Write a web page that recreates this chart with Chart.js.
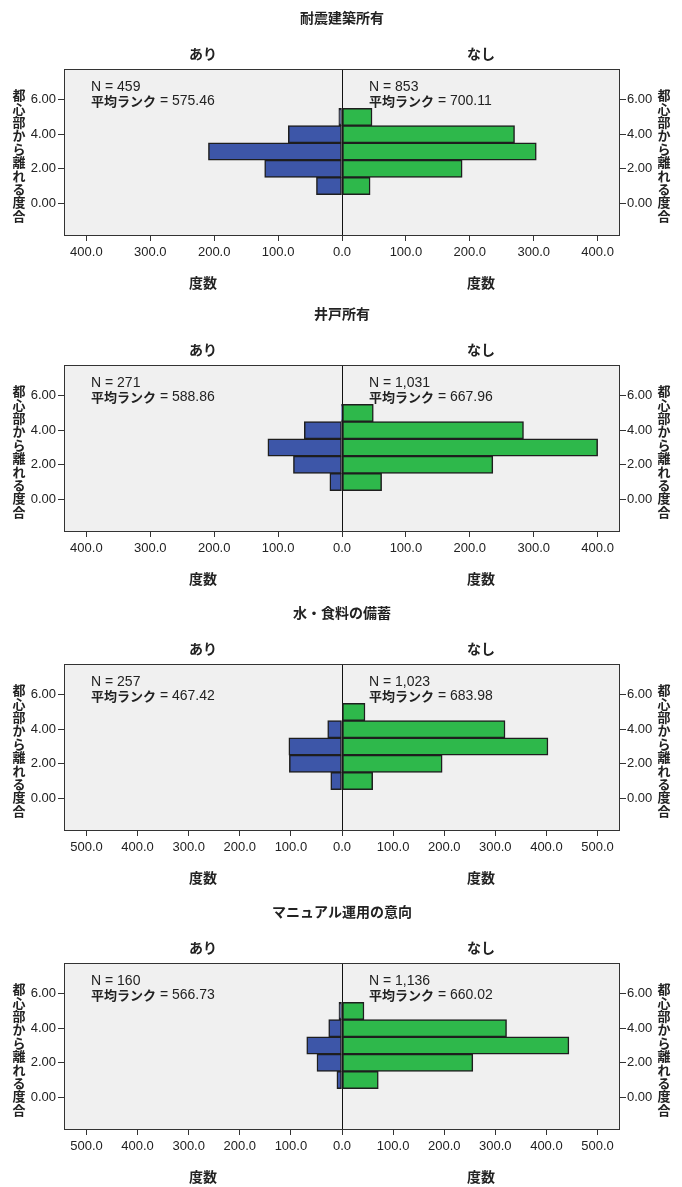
<!DOCTYPE html>
<html>
<head>
<meta charset="utf-8">
<script src="https://cdn.jsdelivr.net/npm/chart.js@4.4.1/dist/chart.umd.min.js"></script>
<style>
  body { margin: 0; background: #fff; width: 682px; height: 1187px; overflow: hidden; position: relative; }
  .panel { position: absolute; left: 0; width: 682px; height: 293px; }
</style>
</head>
<body>
<div class="panel" style="top:0px"><canvas id="c0" width="682" height="293"></canvas></div>
<div class="panel" style="top:296px"><canvas id="c1" width="682" height="293"></canvas></div>
<div class="panel" style="top:595px"><canvas id="c2" width="682" height="293"></canvas></div>
<div class="panel" style="top:894px"><canvas id="c3" width="682" height="293"></canvas></div>
<script>
// データ (度数、ビン 1〜5)
var bins = [1, 2, 3, 4, 5]
var yTicks = [0, 2, 4, 6]
var xTicks400 = [-400, -300, -200, -100, 0, 100, 200, 300, 400]
var xTicks500 = [-500, -400, -300, -200, -100, 0, 100, 200, 300, 400, 500]

var titles = ['耐震建築所有', '井戸所有', '水・食料の備蓄', 'マニュアル運用の意向']

var ariCounts1 = [40, 121, 209, 84, 5]
var nashiCounts1 = [44, 188, 304, 270, 47]
var ariCounts2 = [19, 76, 116, 59, 1]
var nashiCounts2 = [62, 236, 400, 284, 49]
var ariCounts3 = [22, 103, 104, 28, 0]
var nashiCounts3 = [60, 196, 403, 319, 45]
var ariCounts4 = [10, 49, 69, 26, 6]
var nashiCounts4 = [71, 256, 444, 322, 43]

var ariN = [459, 271, 257, 160]
var nashiN = [853, 1031, 1023, 1136]
var ariRank = ['575.46', '588.86', '467.42', '566.73']
var nashiRank = ['700.11', '667.96', '683.98', '660.02']

var FONT = "'Liberation Sans Narrow', 'Liberation Sans', 'Noto Sans CJK JP', sans-serif"
var JP = "'Noto Sans CJK JP', sans-serif"
var yTitle = '都心部から離れる度合'

Chart.defaults.font.family = FONT
Chart.defaults.color = '#222'

// 背景・枠・テキストを描くプラグイン
var panelDecor = {
  id: 'panelDecor',
  beforeDraw: function(chart) {
    var a = chart.chartArea, ctx = chart.ctx
    ctx.save()
    ctx.fillStyle = '#f0f0f0'
    ctx.fillRect(a.left, a.top, a.right - a.left, a.bottom - a.top)
    ctx.restore()
  },
  afterDraw: function(chart, args, opts) {
    var a = chart.chartArea, ctx = chart.ctx
    var cx = chart.scales.x.getPixelForValue(0)
    var lx = (a.left + cx) / 2, rx = (cx + a.right) / 2
    ctx.save()
    ctx.strokeStyle = '#333'
    ctx.lineWidth = 1
    ctx.strokeRect(a.left + 0.5, a.top + 0.5, a.right - a.left - 1, a.bottom - a.top - 1)

    ctx.fillStyle = '#222'
    ctx.textAlign = 'center'
    ctx.textBaseline = 'middle'
    ctx.font = 'bold 14px ' + JP
    ctx.fillText(opts.title, (a.left + a.right) / 2, a.top - 51)
    ctx.fillText('あり', lx, a.top - 15)
    ctx.fillText('なし', rx, a.top - 15)
    ctx.fillText('度数', lx, a.bottom + 47)
    ctx.fillText('度数', rx, a.bottom + 47)

    // 縦書きの軸タイトル
    ctx.font = 'bold 13px ' + JP
    var step = 13.4
    var y0 = (a.top + a.bottom) / 2 + 3 - step * (yTitle.length - 1) / 2
    for (var i = 0; i < yTitle.length; i++) {
      ctx.fillText(yTitle[i], 19, y0 + i * step)
      ctx.fillText(yTitle[i], 664, y0 + i * step)
    }

    // N と平均ランク
    ctx.textAlign = 'left'
    function stats(x, n, rank) {
      ctx.font = '14px ' + FONT
      ctx.fillText('N = ' + n.toLocaleString('en-US'), x, a.top + 18)
      ctx.font = 'bold 13px ' + JP
      ctx.fillText('平均ランク', x, a.top + 32)
      var w = ctx.measureText('平均ランク').width
      ctx.font = '14px ' + FONT
      ctx.fillText(' = ' + rank, x + w, a.top + 32)
    }
    stats(a.left + 27, opts.ariN, opts.ariRank)
    stats(cx + 27, opts.nashiN, opts.nashiRank)
    ctx.restore()
  }
}

function toPoints(counts, sign) {
  return bins.map(function(b, i) {
    return { x: counts[i] === 0 ? null : sign * counts[i], y: b }
  })
}

function yAxis(pos, width, pad) {
  return {
    type: 'linear',
    axis: 'y',
    position: pos,
    offset: false,
    min: -1.9, max: 7.78,
    afterBuildTicks: function(s) { s.ticks = yTicks.map(function(v) { return { value: v } }) },
    afterFit: function(s) { s.width = width },
    border: { display: false },
    grid: { offset: false, drawOnChartArea: false, tickColor: '#333', tickLength: 6 },
    ticks: { padding: pad, font: { size: 13 }, callback: function(v) { return v.toFixed(2) } }
  }
}

function makePanel(id, k, ari, nashi, xTicks, xMax) {
  var ctx = document.getElementById(id).getContext('2d')
  return new Chart(ctx, {
    type: 'bar',
    data: {
      datasets: [{
        label: 'あり',
        data: toPoints(ari, -1),
        backgroundColor: '#3d56a8',
        borderColor: '#1e1e1e',
        borderWidth: 1.5,
        borderSkipped: false,
        grouped: false,
        categoryPercentage: 1,
        barPercentage: 1
      }, {
        label: 'なし',
        data: toPoints(nashi, 1),
        backgroundColor: '#2eb84b',
        borderColor: '#1e1e1e',
        borderWidth: 1.5,
        borderSkipped: false,
        grouped: false,
        categoryPercentage: 1,
        barPercentage: 1
      }]
    },
    options: {
      indexAxis: 'y',
      responsive: false,
      animation: false,
      devicePixelRatio: 1,
      layout: { padding: { top: 69, bottom: 0, left: 0, right: 0 } },
      plugins: {
        legend: { display: false },
        tooltip: { enabled: false },
        panelDecor: {
          title: titles[k],
          ariN: ariN[k], nashiN: nashiN[k],
          ariRank: ariRank[k], nashiRank: nashiRank[k]
        }
      },
      scales: {
        x: {
          type: 'linear',
          min: -xMax, max: xMax,
          afterBuildTicks: function(s) { s.ticks = xTicks.map(function(v) { return { value: v } }) },
          afterFit: function(s) { s.height = 57 },
          border: { display: false },
          grid: {
            drawOnChartArea: true,
            color: function(c) { return c.tick && c.tick.value === 0 ? '#111' : 'rgba(0,0,0,0)' },
            tickColor: '#333',
            tickLength: 5
          },
          ticks: {
            autoSkip: false, maxRotation: 0, padding: 4,
            font: { size: 13 },
            callback: function(v) { return Math.abs(v).toFixed(1) }
          }
        },
        y: yAxis('left', 64, 2),
        y2: yAxis('right', 62, 1)
      }
    },
    plugins: [panelDecor]
  })
}

makePanel('c0', 0, ariCounts1, nashiCounts1, xTicks400, 435)
makePanel('c1', 1, ariCounts2, nashiCounts2, xTicks400, 435)
makePanel('c2', 2, ariCounts3, nashiCounts3, xTicks500, 544)
makePanel('c3', 3, ariCounts4, nashiCounts4, xTicks500, 544)
</script>
</body>
</html>
